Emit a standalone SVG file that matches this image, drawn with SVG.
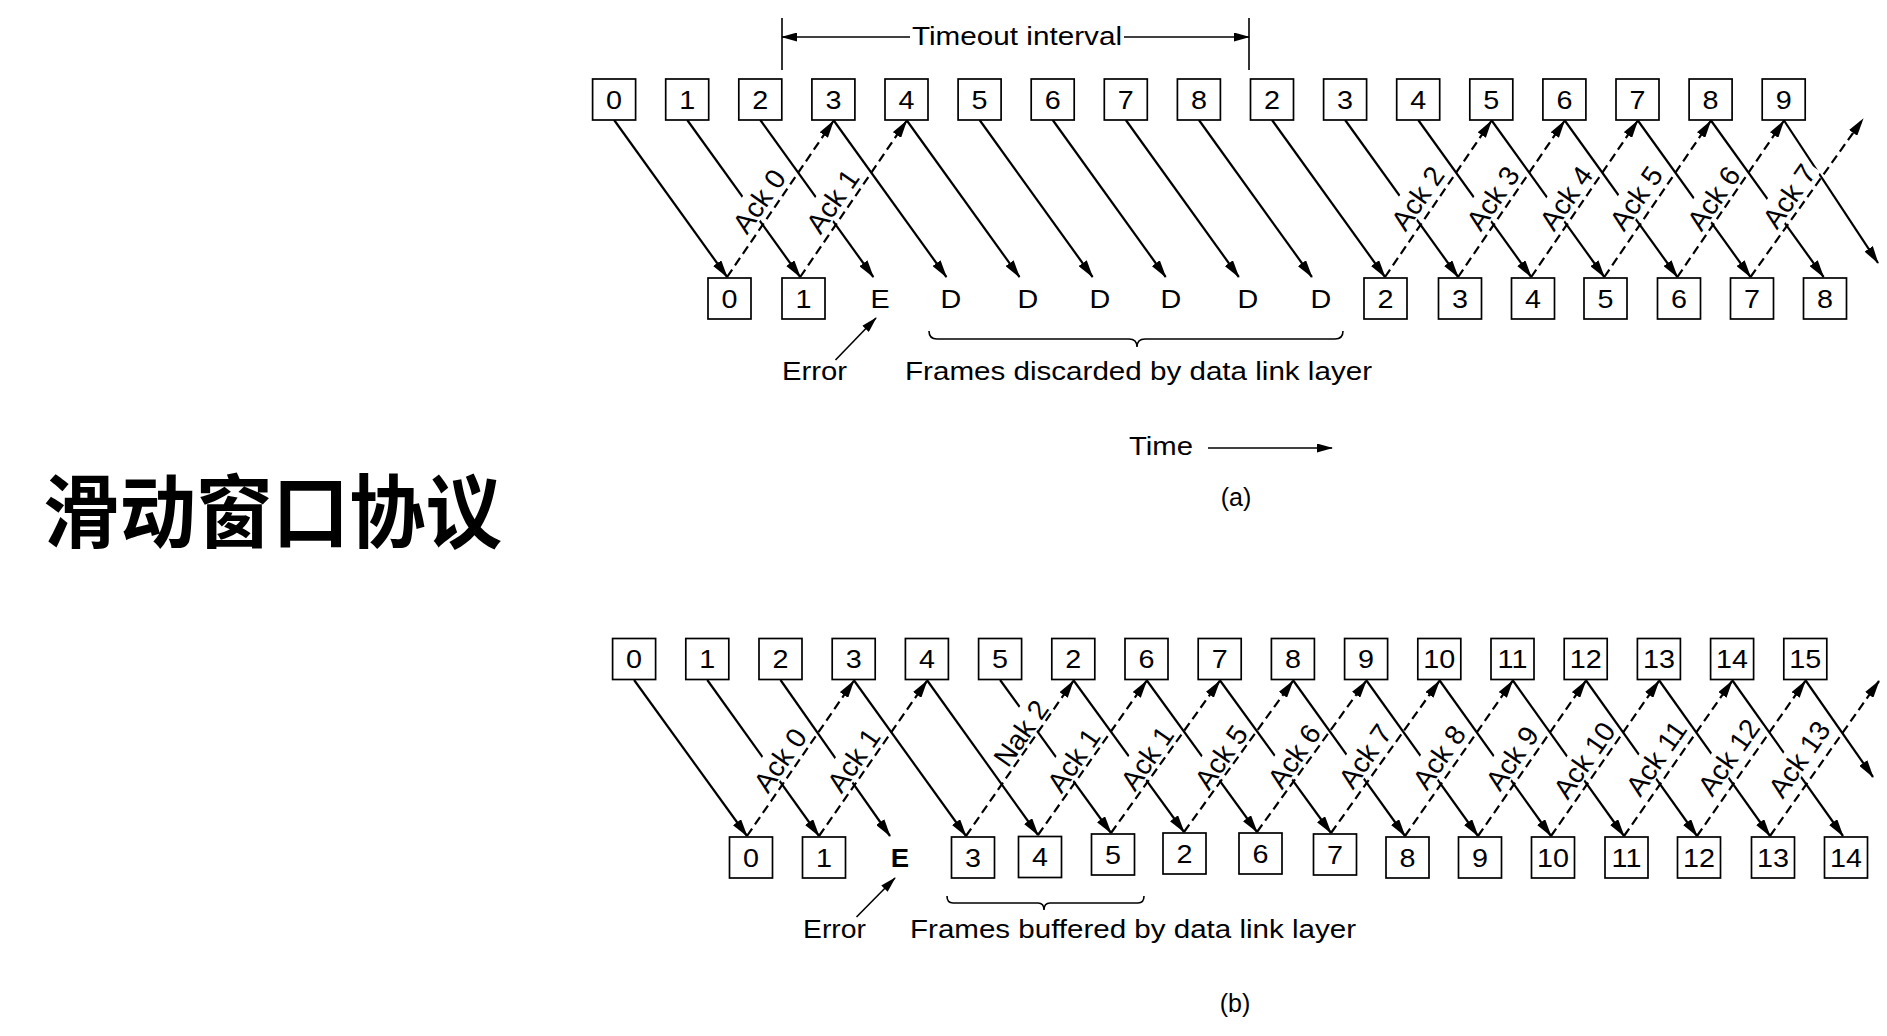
<svg xmlns="http://www.w3.org/2000/svg" width="1887" height="1036" viewBox="0 0 1887 1036">
<defs>
<marker id="ah" markerUnits="userSpaceOnUse" markerWidth="18" markerHeight="10" refX="17" refY="5" orient="auto"><path d="M0,0 L18,5 L0,10 z" fill="#000"/></marker>
<marker id="ahs" markerUnits="userSpaceOnUse" markerWidth="16" markerHeight="9" refX="15" refY="4.5" orient="auto"><path d="M0,0 L16,4.5 L0,9 z" fill="#000"/></marker>
<style>
.box{fill:#fff;stroke:#000;stroke-width:1.7}
.sol{stroke:#000;stroke-width:2.2;fill:none;marker-end:url(#ah)}
.dsh{stroke:#000;stroke-width:2.2;stroke-dasharray:9 5;fill:none;marker-end:url(#ah)}
.thin{stroke:#000;stroke-width:1.6;fill:none}
.arr{stroke:#000;stroke-width:1.6;fill:none;marker-end:url(#ahs)}
.t{font-family:"Liberation Sans",Arial,Helvetica,sans-serif;font-size:25px;fill:#000}
.m{text-anchor:middle}
.lbl{font-family:"Liberation Sans",Arial,Helvetica,sans-serif;font-size:28px;fill:#000;text-anchor:middle}
.bg{fill:#fff}
.title{font-family:"Noto Sans CJK SC","Noto Sans CJK TC",sans-serif;font-size:80px;font-weight:bold;fill:#000}
</style>
</defs>
<rect x="0" y="0" width="1887" height="1036" fill="#fff"/>

<g id="title"><text class="title" x="43" y="541" textLength="459" lengthAdjust="spacingAndGlyphs">滑动窗口协议</text></g>

<g id="connectors">
<line class="thin" x1="782" y1="18" x2="782" y2="70"/>
<line class="thin" x1="1249" y1="18" x2="1249" y2="70"/>
<line class="arr" x1="910" y1="37" x2="782" y2="37"/>
<line class="arr" x1="1124" y1="37" x2="1249" y2="37"/>
<path class="sol" d="M614.1,120 L727.1,277"/>
<path class="sol" d="M687.2,120 L800.2,277"/>
<path class="sol" d="M760.3,120 L873.3,277"/>
<path class="sol" d="M833.4,120 L946.4,277"/>
<path class="sol" d="M906.5,120 L1019.5,277"/>
<path class="sol" d="M979.6,120 L1092.6,277"/>
<path class="sol" d="M1052.7,120 L1165.7,277"/>
<path class="sol" d="M1125.8,120 L1238.8,277"/>
<path class="sol" d="M1198.9,120 L1311.9,277"/>
<path class="sol" d="M1272,120 L1385,277"/>
<path class="sol" d="M1345.1,120 L1458.1,277"/>
<path class="sol" d="M1418.2,120 L1531.2,277"/>
<path class="sol" d="M1491.3,120 L1604.3,277"/>
<path class="sol" d="M1564.4,120 L1677.4,277"/>
<path class="sol" d="M1637.5,120 L1750.5,277"/>
<path class="sol" d="M1710.6,120 L1823.6,277"/>
<path class="sol" d="M1783.7,120 L1878,263"/>
<path class="dsh" d="M727.1,277 L833.4,121"/>
<path class="dsh" d="M800.2,277 L906.5,121"/>
<path class="dsh" d="M1385,277 L1491.3,121"/>
<path class="dsh" d="M1458.1,277 L1564.4,121"/>
<path class="dsh" d="M1531.2,277 L1637.5,121"/>
<path class="dsh" d="M1604.3,277 L1710.6,121"/>
<path class="dsh" d="M1677.4,277 L1783.7,121"/>
<path class="dsh" d="M1750.5,277 L1863,119"/>
<line class="arr" x1="835.5" y1="360" x2="876" y2="318"/>
<path class="thin" d="M929,331 Q929,339 937,339 L1129,339 Q1137,339 1137,347 Q1137,339 1145,339 L1335,339 Q1343,339 1343,331"/>
<line class="arr" x1="1208" y1="448" x2="1332" y2="448"/>

<path class="sol" d="M634.1,680 L747,836"/>
<path class="sol" d="M707.3,680 L819,836"/>
<path class="sol" d="M780.5,680 L890,836"/>
<path class="sol" d="M853.7,680 L966,836"/>
<path class="sol" d="M926.9,680 L1038,835"/>
<path class="sol" d="M1000.1,680 L1111,833"/>
<path class="sol" d="M1073.3,680 L1184,832"/>
<path class="sol" d="M1146.5,680 L1257,832"/>
<path class="sol" d="M1219.7,680 L1331,833"/>
<path class="sol" d="M1292.9,680 L1405,836"/>
<path class="sol" d="M1366.1,680 L1478,836"/>
<path class="sol" d="M1439.3,680 L1551,836"/>
<path class="sol" d="M1512.5,680 L1624,836"/>
<path class="sol" d="M1585.7,680 L1697,836"/>
<path class="sol" d="M1658.9,680 L1770,836"/>
<path class="sol" d="M1732.1,680 L1843,836"/>
<path class="sol" d="M1805.3,680 L1873,777"/>
<path class="dsh" d="M747,836 L853.7,681"/>
<path class="dsh" d="M819,836 L926.9,681"/>
<path class="dsh" d="M966,836 L1073.3,681"/>
<path class="dsh" d="M1038,835 L1146.5,681"/>
<path class="dsh" d="M1111,833 L1219.7,681"/>
<path class="dsh" d="M1184,832 L1292.9,681"/>
<path class="dsh" d="M1257,832 L1366.1,681"/>
<path class="dsh" d="M1331,833 L1439.3,681"/>
<path class="dsh" d="M1405,836 L1512.5,681"/>
<path class="dsh" d="M1478,836 L1585.7,681"/>
<path class="dsh" d="M1551,836 L1658.9,681"/>
<path class="dsh" d="M1624,836 L1732.1,681"/>
<path class="dsh" d="M1697,836 L1805.3,681"/>
<path class="dsh" d="M1770,836 L1879,681"/>
<line class="arr" x1="856.5" y1="917" x2="895" y2="878"/>
<path class="thin" d="M947,896 Q947,903 953,903 L1038,903 Q1044,903 1044,910 Q1044,903 1050,903 L1138,903 Q1144,903 1144,896"/>
</g>

<g id="connector-labels">
<g transform="translate(759,201) rotate(-55)"><rect class="bg" x="-38" y="-16" width="76" height="28"/><text class="lbl" y="10">Ack 0</text></g>
<g transform="translate(832.5,201) rotate(-55)"><rect class="bg" x="-38" y="-16" width="76" height="28"/><text class="lbl" y="10">Ack 1</text></g>
<g transform="translate(1417.5,198) rotate(-55)"><rect class="bg" x="-38" y="-16" width="76" height="28"/><text class="lbl" y="10">Ack 2</text></g>
<g transform="translate(1492.7,198) rotate(-55)"><rect class="bg" x="-38" y="-16" width="76" height="28"/><text class="lbl" y="10">Ack 3</text></g>
<g transform="translate(1566,198) rotate(-55)"><rect class="bg" x="-38" y="-16" width="76" height="28"/><text class="lbl" y="10">Ack 4</text></g>
<g transform="translate(1636,198) rotate(-55)"><rect class="bg" x="-38" y="-16" width="76" height="28"/><text class="lbl" y="10">Ack 5</text></g>
<g transform="translate(1713.5,198) rotate(-55)"><rect class="bg" x="-38" y="-16" width="76" height="28"/><text class="lbl" y="10">Ack 6</text></g>
<g transform="translate(1789,196) rotate(-55)"><rect class="bg" x="-38" y="-16" width="76" height="28"/><text class="lbl" y="10">Ack 7</text></g>

<g transform="translate(779.8,760) rotate(-55)"><rect class="bg" x="-38" y="-16" width="76" height="28"/><text class="lbl" y="10">Ack 0</text></g>
<g transform="translate(853.5,760) rotate(-55)"><rect class="bg" x="-38" y="-16" width="76" height="28"/><text class="lbl" y="10">Ack 1</text></g>
<g transform="translate(1020.8,733) rotate(-55)"><rect class="bg" x="-40" y="-16" width="80" height="28"/><text class="lbl" y="10">Nak 2</text></g>
<g transform="translate(1073.4,760) rotate(-55)"><rect class="bg" x="-38" y="-16" width="76" height="28"/><text class="lbl" y="10">Ack 1</text></g>
<g transform="translate(1147,758) rotate(-55)"><rect class="bg" x="-38" y="-16" width="76" height="28"/><text class="lbl" y="10">Ack 1</text></g>
<g transform="translate(1221,757) rotate(-55)"><rect class="bg" x="-38" y="-16" width="76" height="28"/><text class="lbl" y="10">Ack 5</text></g>
<g transform="translate(1294,756) rotate(-55)"><rect class="bg" x="-38" y="-16" width="76" height="28"/><text class="lbl" y="10">Ack 6</text></g>
<g transform="translate(1365,756) rotate(-55)"><rect class="bg" x="-38" y="-16" width="76" height="28"/><text class="lbl" y="10">Ack 7</text></g>
<g transform="translate(1439,757) rotate(-55)"><rect class="bg" x="-38" y="-16" width="76" height="28"/><text class="lbl" y="10">Ack 8</text></g>
<g transform="translate(1512,758) rotate(-55)"><rect class="bg" x="-38" y="-16" width="76" height="28"/><text class="lbl" y="10">Ack 9</text></g>
<g transform="translate(1584,760) rotate(-55)"><rect class="bg" x="-45" y="-16" width="90" height="28"/><text class="lbl" y="10">Ack 10</text></g>
<g transform="translate(1656,758) rotate(-55)"><rect class="bg" x="-45" y="-16" width="90" height="28"/><text class="lbl" y="10">Ack 11</text></g>
<g transform="translate(1728.5,757) rotate(-55)"><rect class="bg" x="-45" y="-16" width="90" height="28"/><text class="lbl" y="10">Ack 12</text></g>
<g transform="translate(1799,759) rotate(-55)"><rect class="bg" x="-45" y="-16" width="90" height="28"/><text class="lbl" y="10">Ack 13</text></g>
</g>

<g id="texts">
<text class="t" x="912" y="45" textLength="210" lengthAdjust="spacingAndGlyphs">Timeout interval</text>
<text class="t" x="782" y="380" textLength="65" lengthAdjust="spacingAndGlyphs">Error</text>
<text class="t" x="905" y="380" textLength="467" lengthAdjust="spacingAndGlyphs">Frames discarded by data link layer</text>
<text class="t" x="1129" y="455" textLength="64" lengthAdjust="spacingAndGlyphs">Time</text>
<text class="t m" x="1236" y="506">(a)</text>
<text class="t" x="803" y="938" textLength="63" lengthAdjust="spacingAndGlyphs">Error</text>
<text class="t" x="910" y="938" textLength="446" lengthAdjust="spacingAndGlyphs">Frames buffered by data link layer</text>
<text class="t m" x="1235" y="1012">(b)</text>
</g>

<g id="a-s0"><rect class="box" x="592.6" y="79" width="43" height="41"/><text class="t m" transform="translate(614.1,108.5) scale(1.15,1)">0</text></g>
<g id="a-s1"><rect class="box" x="665.7" y="79" width="43" height="41"/><text class="t m" transform="translate(687.2,108.5) scale(1.15,1)">1</text></g>
<g id="a-s2"><rect class="box" x="738.8" y="79" width="43" height="41"/><text class="t m" transform="translate(760.3,108.5) scale(1.15,1)">2</text></g>
<g id="a-s3"><rect class="box" x="811.9" y="79" width="43" height="41"/><text class="t m" transform="translate(833.4,108.5) scale(1.15,1)">3</text></g>
<g id="a-s4"><rect class="box" x="885" y="79" width="43" height="41"/><text class="t m" transform="translate(906.5,108.5) scale(1.15,1)">4</text></g>
<g id="a-s5"><rect class="box" x="958.1" y="79" width="43" height="41"/><text class="t m" transform="translate(979.6,108.5) scale(1.15,1)">5</text></g>
<g id="a-s6"><rect class="box" x="1031.2" y="79" width="43" height="41"/><text class="t m" transform="translate(1052.7,108.5) scale(1.15,1)">6</text></g>
<g id="a-s7"><rect class="box" x="1104.3" y="79" width="43" height="41"/><text class="t m" transform="translate(1125.8,108.5) scale(1.15,1)">7</text></g>
<g id="a-s8"><rect class="box" x="1177.4" y="79" width="43" height="41"/><text class="t m" transform="translate(1198.9,108.5) scale(1.15,1)">8</text></g>
<g id="a-s9"><rect class="box" x="1250.5" y="79" width="43" height="41"/><text class="t m" transform="translate(1272,108.5) scale(1.15,1)">2</text></g>
<g id="a-s10"><rect class="box" x="1323.6" y="79" width="43" height="41"/><text class="t m" transform="translate(1345.1,108.5) scale(1.15,1)">3</text></g>
<g id="a-s11"><rect class="box" x="1396.7" y="79" width="43" height="41"/><text class="t m" transform="translate(1418.2,108.5) scale(1.15,1)">4</text></g>
<g id="a-s12"><rect class="box" x="1469.8" y="79" width="43" height="41"/><text class="t m" transform="translate(1491.3,108.5) scale(1.15,1)">5</text></g>
<g id="a-s13"><rect class="box" x="1542.9" y="79" width="43" height="41"/><text class="t m" transform="translate(1564.4,108.5) scale(1.15,1)">6</text></g>
<g id="a-s14"><rect class="box" x="1616" y="79" width="43" height="41"/><text class="t m" transform="translate(1637.5,108.5) scale(1.15,1)">7</text></g>
<g id="a-s15"><rect class="box" x="1689.1" y="79" width="43" height="41"/><text class="t m" transform="translate(1710.6,108.5) scale(1.15,1)">8</text></g>
<g id="a-s16"><rect class="box" x="1762.2" y="79" width="43" height="41"/><text class="t m" transform="translate(1783.7,108.5) scale(1.15,1)">9</text></g>

<g id="a-r0"><rect class="box" x="708" y="278" width="43" height="41"/><text class="t m" transform="translate(729.5,307.5) scale(1.15,1)">0</text></g>
<g id="a-r1"><rect class="box" x="782" y="278" width="43" height="41"/><text class="t m" transform="translate(803.5,307.5) scale(1.15,1)">1</text></g>
<g id="a-rE"><text class="t m" transform="translate(880,307.5) scale(1.15,1)">E</text></g>
<g id="a-rD3"><text class="t m" transform="translate(951,307.5) scale(1.15,1)">D</text></g>
<g id="a-rD4"><text class="t m" transform="translate(1028,307.5) scale(1.15,1)">D</text></g>
<g id="a-rD5"><text class="t m" transform="translate(1100,307.5) scale(1.15,1)">D</text></g>
<g id="a-rD6"><text class="t m" transform="translate(1171,307.5) scale(1.15,1)">D</text></g>
<g id="a-rD7"><text class="t m" transform="translate(1248,307.5) scale(1.15,1)">D</text></g>
<g id="a-rD8"><text class="t m" transform="translate(1321,307.5) scale(1.15,1)">D</text></g>
<g id="a-r2"><rect class="box" x="1364" y="278" width="43" height="41"/><text class="t m" transform="translate(1385.5,307.5) scale(1.15,1)">2</text></g>
<g id="a-r3"><rect class="box" x="1438.5" y="278" width="43" height="41"/><text class="t m" transform="translate(1460,307.5) scale(1.15,1)">3</text></g>
<g id="a-r4"><rect class="box" x="1511.5" y="278" width="43" height="41"/><text class="t m" transform="translate(1533,307.5) scale(1.15,1)">4</text></g>
<g id="a-r5"><rect class="box" x="1584" y="278" width="43" height="41"/><text class="t m" transform="translate(1605.5,307.5) scale(1.15,1)">5</text></g>
<g id="a-r6"><rect class="box" x="1657.5" y="278" width="43" height="41"/><text class="t m" transform="translate(1679,307.5) scale(1.15,1)">6</text></g>
<g id="a-r7"><rect class="box" x="1730.5" y="278" width="43" height="41"/><text class="t m" transform="translate(1752,307.5) scale(1.15,1)">7</text></g>
<g id="a-r8"><rect class="box" x="1803.5" y="278" width="43" height="41"/><text class="t m" transform="translate(1825,307.5) scale(1.15,1)">8</text></g>

<g id="b-s0"><rect class="box" x="612.6" y="638.5" width="43" height="41"/><text class="t m" transform="translate(634.1,667.5) scale(1.15,1)">0</text></g>
<g id="b-s1"><rect class="box" x="685.8" y="638.5" width="43" height="41"/><text class="t m" transform="translate(707.3,667.5) scale(1.15,1)">1</text></g>
<g id="b-s2"><rect class="box" x="759" y="638.5" width="43" height="41"/><text class="t m" transform="translate(780.5,667.5) scale(1.15,1)">2</text></g>
<g id="b-s3"><rect class="box" x="832.2" y="638.5" width="43" height="41"/><text class="t m" transform="translate(853.7,667.5) scale(1.15,1)">3</text></g>
<g id="b-s4"><rect class="box" x="905.4" y="638.5" width="43" height="41"/><text class="t m" transform="translate(926.9,667.5) scale(1.15,1)">4</text></g>
<g id="b-s5"><rect class="box" x="978.6" y="638.5" width="43" height="41"/><text class="t m" transform="translate(1000.1,667.5) scale(1.15,1)">5</text></g>
<g id="b-s6"><rect class="box" x="1051.8" y="638.5" width="43" height="41"/><text class="t m" transform="translate(1073.3,667.5) scale(1.15,1)">2</text></g>
<g id="b-s7"><rect class="box" x="1125" y="638.5" width="43" height="41"/><text class="t m" transform="translate(1146.5,667.5) scale(1.15,1)">6</text></g>
<g id="b-s8"><rect class="box" x="1198.2" y="638.5" width="43" height="41"/><text class="t m" transform="translate(1219.7,667.5) scale(1.15,1)">7</text></g>
<g id="b-s9"><rect class="box" x="1271.4" y="638.5" width="43" height="41"/><text class="t m" transform="translate(1292.9,667.5) scale(1.15,1)">8</text></g>
<g id="b-s10"><rect class="box" x="1344.6" y="638.5" width="43" height="41"/><text class="t m" transform="translate(1366.1,667.5) scale(1.15,1)">9</text></g>
<g id="b-s11"><rect class="box" x="1417.8" y="638.5" width="43" height="41"/><text class="t m" transform="translate(1439.3,667.5) scale(1.15,1)">10</text></g>
<g id="b-s12"><rect class="box" x="1491" y="638.5" width="43" height="41"/><text class="t m" transform="translate(1512.5,667.5) scale(1.15,1)">11</text></g>
<g id="b-s13"><rect class="box" x="1564.2" y="638.5" width="43" height="41"/><text class="t m" transform="translate(1585.7,667.5) scale(1.15,1)">12</text></g>
<g id="b-s14"><rect class="box" x="1637.4" y="638.5" width="43" height="41"/><text class="t m" transform="translate(1658.9,667.5) scale(1.15,1)">13</text></g>
<g id="b-s15"><rect class="box" x="1710.6" y="638.5" width="43" height="41"/><text class="t m" transform="translate(1732.1,667.5) scale(1.15,1)">14</text></g>
<g id="b-s16"><rect class="box" x="1783.8" y="638.5" width="43" height="41"/><text class="t m" transform="translate(1805.3,667.5) scale(1.15,1)">15</text></g>

<g id="b-r0"><rect class="box" x="729.5" y="837" width="43" height="41"/><text class="t m" transform="translate(751,866.5) scale(1.15,1)">0</text></g>
<g id="b-r1"><rect class="box" x="802.5" y="837" width="43" height="41"/><text class="t m" transform="translate(824,866.5) scale(1.15,1)">1</text></g>
<g id="b-rE"><text class="t m" font-weight="bold" transform="translate(900,867) scale(1.1,1)">E</text></g>
<g id="b-r3"><rect class="box" x="951.5" y="837" width="43" height="41"/><text class="t m" transform="translate(973,866.5) scale(1.15,1)">3</text></g>
<g id="b-r4"><rect class="box" x="1018.5" y="836.5" width="43" height="41"/><text class="t m" transform="translate(1040,866) scale(1.15,1)">4</text></g>
<g id="b-r5"><rect class="box" x="1091.5" y="834" width="43" height="41"/><text class="t m" transform="translate(1113,863.5) scale(1.15,1)">5</text></g>
<g id="b-r2"><rect class="box" x="1163" y="833" width="43" height="41"/><text class="t m" transform="translate(1184.5,862.5) scale(1.15,1)">2</text></g>
<g id="b-r6"><rect class="box" x="1239" y="833" width="43" height="41"/><text class="t m" transform="translate(1260.5,862.5) scale(1.15,1)">6</text></g>
<g id="b-r7"><rect class="box" x="1313.5" y="834" width="43" height="41"/><text class="t m" transform="translate(1335,863.5) scale(1.15,1)">7</text></g>
<g id="b-r8"><rect class="box" x="1386" y="837" width="43" height="41"/><text class="t m" transform="translate(1407.5,866.5) scale(1.15,1)">8</text></g>
<g id="b-r9"><rect class="box" x="1458.5" y="837" width="43" height="41"/><text class="t m" transform="translate(1480,866.5) scale(1.15,1)">9</text></g>
<g id="b-r10"><rect class="box" x="1531.5" y="837" width="43" height="41"/><text class="t m" transform="translate(1553,866.5) scale(1.15,1)">10</text></g>
<g id="b-r11"><rect class="box" x="1605" y="837" width="43" height="41"/><text class="t m" transform="translate(1626.5,866.5) scale(1.15,1)">11</text></g>
<g id="b-r12"><rect class="box" x="1677.5" y="837" width="43" height="41"/><text class="t m" transform="translate(1699,866.5) scale(1.15,1)">12</text></g>
<g id="b-r13"><rect class="box" x="1751.5" y="837" width="43" height="41"/><text class="t m" transform="translate(1773,866.5) scale(1.15,1)">13</text></g>
<g id="b-r14"><rect class="box" x="1824.5" y="837" width="43" height="41"/><text class="t m" transform="translate(1846,866.5) scale(1.15,1)">14</text></g>
</svg>
